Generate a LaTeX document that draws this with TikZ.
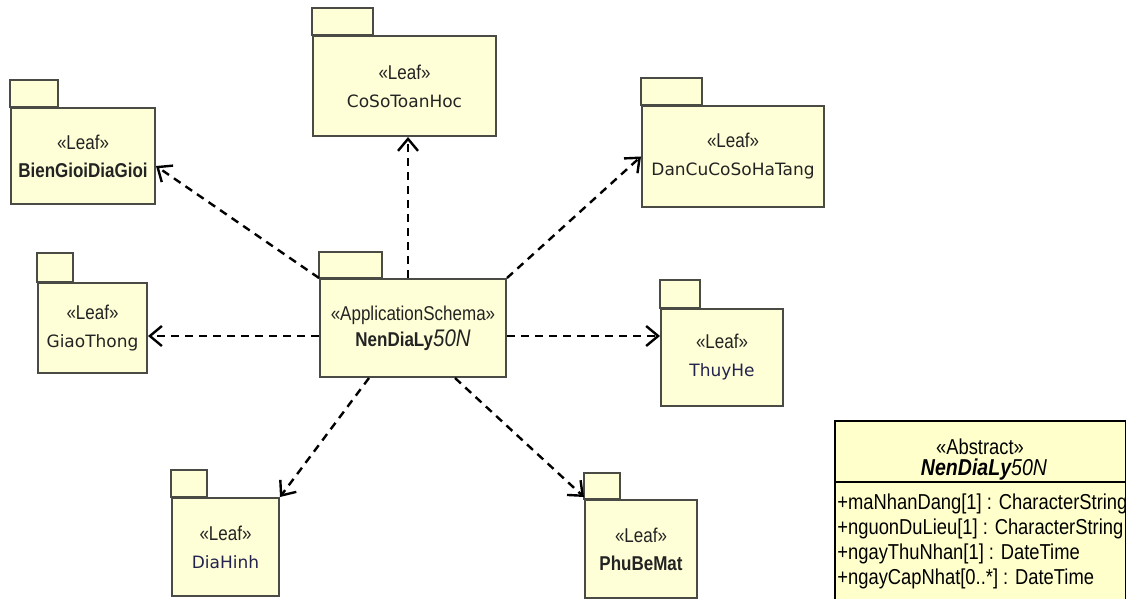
\documentclass[tikz,border=0pt]{standalone}
\usepackage{fontspec}
\setmainfont{Liberation Sans}
\newfontfamily\narrowsans[FakeStretch=0.85]{Liberation Sans}
\newfontfamily\dejavu{DejaVu Sans}
\usetikzlibrary{arrows.meta}
\definecolor{pkgfill}{RGB}{255,255,215}
\definecolor{pkgline}{RGB}{75,75,70}
\definecolor{clsfill}{RGB}{255,255,204}
\definecolor{pkgtext}{RGB}{35,35,35}
\definecolor{navytext}{RGB}{35,35,80}
\tikzset{
	pkg/.style={draw=pkgline, fill=pkgfill, line width=1pt, anchor=north west,
		align=center, inner sep=0pt, text=pkgtext,
		font=\narrowsans\fontsize{10}{14}\selectfont},
	tab/.style={draw=pkgline, fill=pkgfill, line width=1pt},
	dep/.style={dash pattern=on 4pt off 3pt, line width=1.2pt,
		-{Straight Barb[length=6pt,width=10pt,line width=1.2pt]}},
	cls/.style={draw=black, fill=clsfill, line width=1pt, anchor=north west, inner sep=0pt},
	attr/.style={anchor=west, inner sep=0pt, font=\narrowsans\fontsize{10.8}{12}\selectfont},
}
\begin{document}
\begin{tikzpicture}[x=0.5pt, y=-0.5pt]
	\useasboundingbox (0,0) rectangle (1126,599);
	\clip (0,0) rectangle (1126,599);
	%packages
	\node[pkg, minimum width=91.5pt, minimum height=50pt] (cs) at (312,35)
	{«Leaf»\\{\dejavu\fontsize{8.5}{14}\selectfont CoSoToanHoc}};
	\node[pkg, minimum width=72pt, minimum height=48pt] (bg) at (10,107)
	{«Leaf»\\{\bfseries\fontsize{10}{12}\selectfont BienGioiDiaGioi}};
	\node[pkg, minimum width=91pt, minimum height=50.5pt] (dc) at (641,105)
	{«Leaf»\\{\dejavu\fontsize{8.5}{14}\selectfont DanCuCoSoHaTang}};
	\node[pkg, minimum width=54.5pt, minimum height=45pt] (gt) at (37,282)
	{«Leaf»\\{\dejavu\fontsize{8.5}{12}\selectfont GiaoThong}};
	\node[pkg, minimum width=93pt, minimum height=49pt] (nd) at (319,278)
	{«ApplicationSchema»\\[-1pt]{\bfseries\fontsize{10}{12}\selectfont NenDiaLy\fontsize{12}{12}\selectfont\mdseries\itshape 50N}};
	\node[pkg, minimum width=61pt, minimum height=48.5pt] (th) at (660,308)
	{«Leaf»\\{\dejavu\fontsize{8.5}{12}\selectfont\color{navytext}ThuyHe}};
	\node[pkg, minimum width=53.5pt, minimum height=49pt] (dh) at (171,497)
	{«Leaf»\\{\dejavu\fontsize{8.5}{12}\selectfont\color{navytext}DiaHinh}};
	\node[pkg, minimum width=56pt, minimum height=49pt] (pb) at (584,499)
	{«Leaf»\\{\bfseries\fontsize{10}{12}\selectfont PhuBeMat}};
	%tabs
	\draw[tab] (cs.north west) rectangle ++(61,-27);
	\draw[tab] (bg.north west) rectangle ++(48,-27);
	\draw[tab] (dc.north west) rectangle ++(61,-27);
	\draw[tab] (gt.north west) rectangle ++(36,-29);
	\draw[tab] (nd.north west) rectangle ++(63,-26);
	\draw[tab] (th.north west) rectangle ++(40,-28);
	\draw[tab] (dh.north west) rectangle ++(36,-27);
	\draw[tab] (pb.north west) rectangle ++(36,-26);
	%dependencies
	\draw[dep] ([xshift=-2.5pt]nd.north) -- ([xshift=-2.5pt]nd.north |- cs.south);
	\draw[dep] (nd.north west) -- ([yshift=-5pt]bg.east);
	\draw[dep] (nd.north east) -- (dc.west);
	\draw[dep] ([yshift=-4pt]nd.west) -- ([yshift=-4pt]nd.west -| gt.east);
	\draw[dep] ([yshift=-4pt]nd.east) -- ([yshift=-4pt]nd.east -| th.west);
	\draw[dep] ([xshift=-22pt]nd.south) -- (dh.north east);
	\draw[dep] ([xshift=21pt]nd.south) -- ([yshift=1pt]pb.north west);
	%class
	\node[cls, minimum width=145.5pt, minimum height=95pt] (cls) at (834,420) {};
	\draw[line width=1pt] (cls.west |- 0,482) -- (cls.east |- 0,482);
	\node[attr, anchor=center] (st) at (980,447) {«Abstract»};
	\node[attr, anchor=center, font=\narrowsans\fontsize{11.5}{12}\selectfont] (nm) at (984,470)
	{\bfseries\itshape NenDiaLy\mdseries 50N};
	\foreach \attrtext [count=\i] in {{+maNhanDang[1] : CharacterString},
		{+nguonDuLieu[1] : CharacterString},
		{+ngayThuNhan[1] : DateTime},
		{+ngayCapNhat[0..*] : DateTime}}
	\node[attr] (a\i) at (837,479+25*\i) {\attrtext};
\end{tikzpicture}
\end{document}
